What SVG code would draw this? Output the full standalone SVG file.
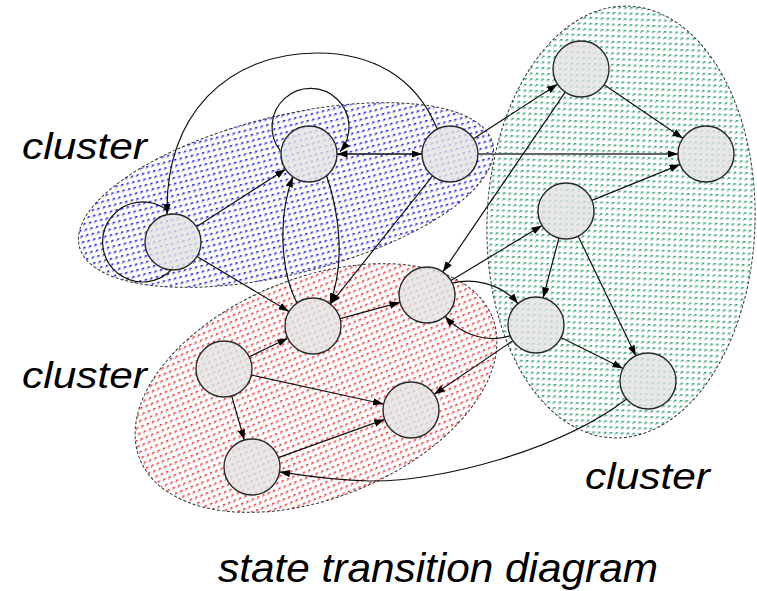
<svg xmlns="http://www.w3.org/2000/svg" width="757" height="591" viewBox="0 0 757 591">
  <defs>
    <style>
      .cl { stroke: #333; stroke-width: 1; stroke-dasharray: 3 2; }
      .node { fill: #e2e2e2; fill-opacity: 0.78; stroke: #2a2a2a; stroke-width: 1.4; }
      .e { fill: none; stroke: #111; stroke-width: 1.2; marker-end: url(#arr); }
      .loop { fill: none; stroke: #111; stroke-width: 1.2; }
      .heavy { fill: none; stroke: #666; stroke-width: 2.2; marker-end: url(#arr); }
      .lbl { font-family: "Liberation Sans", Arial, sans-serif; font-style: italic; fill: #000; }
    </style>
    <marker id="arr" markerUnits="userSpaceOnUse" markerWidth="11" markerHeight="8" refX="10.5" refY="4" orient="auto">
      <path d="M0,0.3 L10.5,4 L0,7.7 z" fill="#000"/>
    </marker>
    <pattern id="dotBlue" width="5.75" height="5.75" patternUnits="userSpaceOnUse">
      <rect x="2" y="1" width="2.2" height="1.5" fill="#0a0aff"/>
      <rect x="1" y="2.4" width="1.2" height="1.2" fill="#7a7aa0"/>
    </pattern>
    <pattern id="dotRed" width="5.75" height="5.75" patternUnits="userSpaceOnUse">
      <rect x="2" y="1" width="2.2" height="1.5" fill="#ff2020"/>
      <rect x="1" y="2.4" width="1.2" height="1.2" fill="#b07c7c"/>
    </pattern>
    <pattern id="dotGreen" width="5.75" height="5.75" patternUnits="userSpaceOnUse">
      <rect x="2" y="1" width="2.2" height="1.5" fill="#18a060"/>
      <rect x="1" y="2.4" width="1.2" height="1.2" fill="#7ca08c"/>
    </pattern>
  </defs>

  <rect width="757" height="591" fill="#fff"/>

  <!-- clusters -->
  <g id="cluster-green">
    <ellipse class="cl" cx="621" cy="222" rx="134" ry="216" transform="rotate(2 621 222)" fill="url(#dotGreen)"/>
  </g>
  <g id="cluster-blue">
    <ellipse class="cl" cx="286" cy="195" rx="213" ry="79" transform="rotate(-14 286 195)" fill="url(#dotBlue)"/>
  </g>
  <g id="cluster-red">
    <ellipse class="cl" cx="316" cy="388" rx="190" ry="110" transform="rotate(-22 316 388)" fill="url(#dotRed)"/>
  </g>

  <!-- connectors -->
  <g id="edges">
    <!-- self loops -->
    <path class="loop" d="M173,268 A40,40 0 1 1 166,209.5"/>
    <path class="e" d="M280.2,150.7 A38.5,38.5 0 1 1 340,151.7"/>
    <!-- long arc C to A -->
    <path class="e" d="M437.3,129.1 C415,75 370,53 317,53 C228,53 164,115 167.2,214.6"/>
    <!-- blue cluster -->
    <path class="e" d="M196.5,226.8 L285.5,169.2"/>
    <path class="e" d="M197,256.4 L289,311.6"/>
    <path class="e" d="M422,154 L337,154"/>
    <path class="e" d="M337,154 L422,154"/>
    <path class="heavy" d="M478,154 L678,154"/>
    <path class="e" d="M473.5,138.8 L557.5,84.2"/>
    <path class="e" d="M432.6,175.9 L330.4,304.1"/>
    <path class="e" d="M326.6,175.8 C340,215 345,265 329.8,303.6"/>
    <path class="e" d="M296.9,303.1 C280,270 278,215 292.9,176.9"/>
    <!-- green cluster -->
    <path class="e" d="M604.1,84.7 L682.8,138.3"/>
    <path class="e" d="M565.2,92.1 L442.8,271.9"/>
    <path class="e" d="M591.9,200.4 L680.1,164.6"/>
    <path class="e" d="M451,280.5 L542,225.5"/>
    <path class="e" d="M558.9,238.1 L543.1,297.9"/>
    <path class="e" d="M578.2,236.2 L635.8,355.8"/>
    <path class="e" d="M561,337.5 L623,368.5"/>
    <path class="e" d="M512.8,340.7 L434.2,394.3"/>
    <path class="e" d="M452.4,283.2 C470,278 500,282 518,303.6"/>
    <path class="e" d="M510.2,335.9 C490,342 465,338 445,316.4"/>
    <path class="e" d="M626.6,399 C560,450 440,482 370,481 C330,480 300,475 279.6,471.9"/>
    <!-- red cluster -->
    <path class="e" d="M340,318.7 L400,302.3"/>
    <path class="e" d="M249.2,356.8 L287.8,338.2"/>
    <path class="e" d="M251.4,375 L383.6,404"/>
    <path class="e" d="M231.7,395.9 L244.3,440.1"/>
    <path class="e" d="M278.3,457.6 L384.7,419.4"/>
  </g>

  <!-- states -->
  <g id="n-a"><circle class="node" cx="173" cy="242" r="28"/></g>
  <g id="n-b"><circle class="node" cx="309" cy="154" r="28"/></g>
  <g id="n-c"><circle class="node" cx="450" cy="154" r="28"/></g>
  <g id="n-d"><circle class="node" cx="581" cy="69" r="28"/></g>
  <g id="n-e"><circle class="node" cx="706" cy="154" r="28"/></g>
  <g id="n-f"><circle class="node" cx="566" cy="211" r="28"/></g>
  <g id="n-g"><circle class="node" cx="313" cy="326" r="28"/></g>
  <g id="n-h"><circle class="node" cx="224" cy="369" r="28"/></g>
  <g id="n-i"><circle class="node" cx="252" cy="467" r="28"/></g>
  <g id="n-j"><circle class="node" cx="427" cy="295" r="28"/></g>
  <g id="n-k"><circle class="node" cx="536" cy="325" r="28"/></g>
  <g id="n-l"><circle class="node" cx="648" cy="381" r="28"/></g>
  <g id="n-m"><circle class="node" cx="411" cy="410" r="28"/></g>

  <!-- labels -->
  <g id="labels">
    <text class="lbl" x="22" y="159" font-size="37" textLength="125" lengthAdjust="spacingAndGlyphs">cluster</text>
    <text class="lbl" x="22" y="388" font-size="37" textLength="125" lengthAdjust="spacingAndGlyphs">cluster</text>
    <text class="lbl" x="585" y="489" font-size="37" textLength="125" lengthAdjust="spacingAndGlyphs">cluster</text>
    <text class="lbl" x="218" y="582" font-size="40" textLength="440" lengthAdjust="spacingAndGlyphs">state transition diagram</text>
  </g>
</svg>
